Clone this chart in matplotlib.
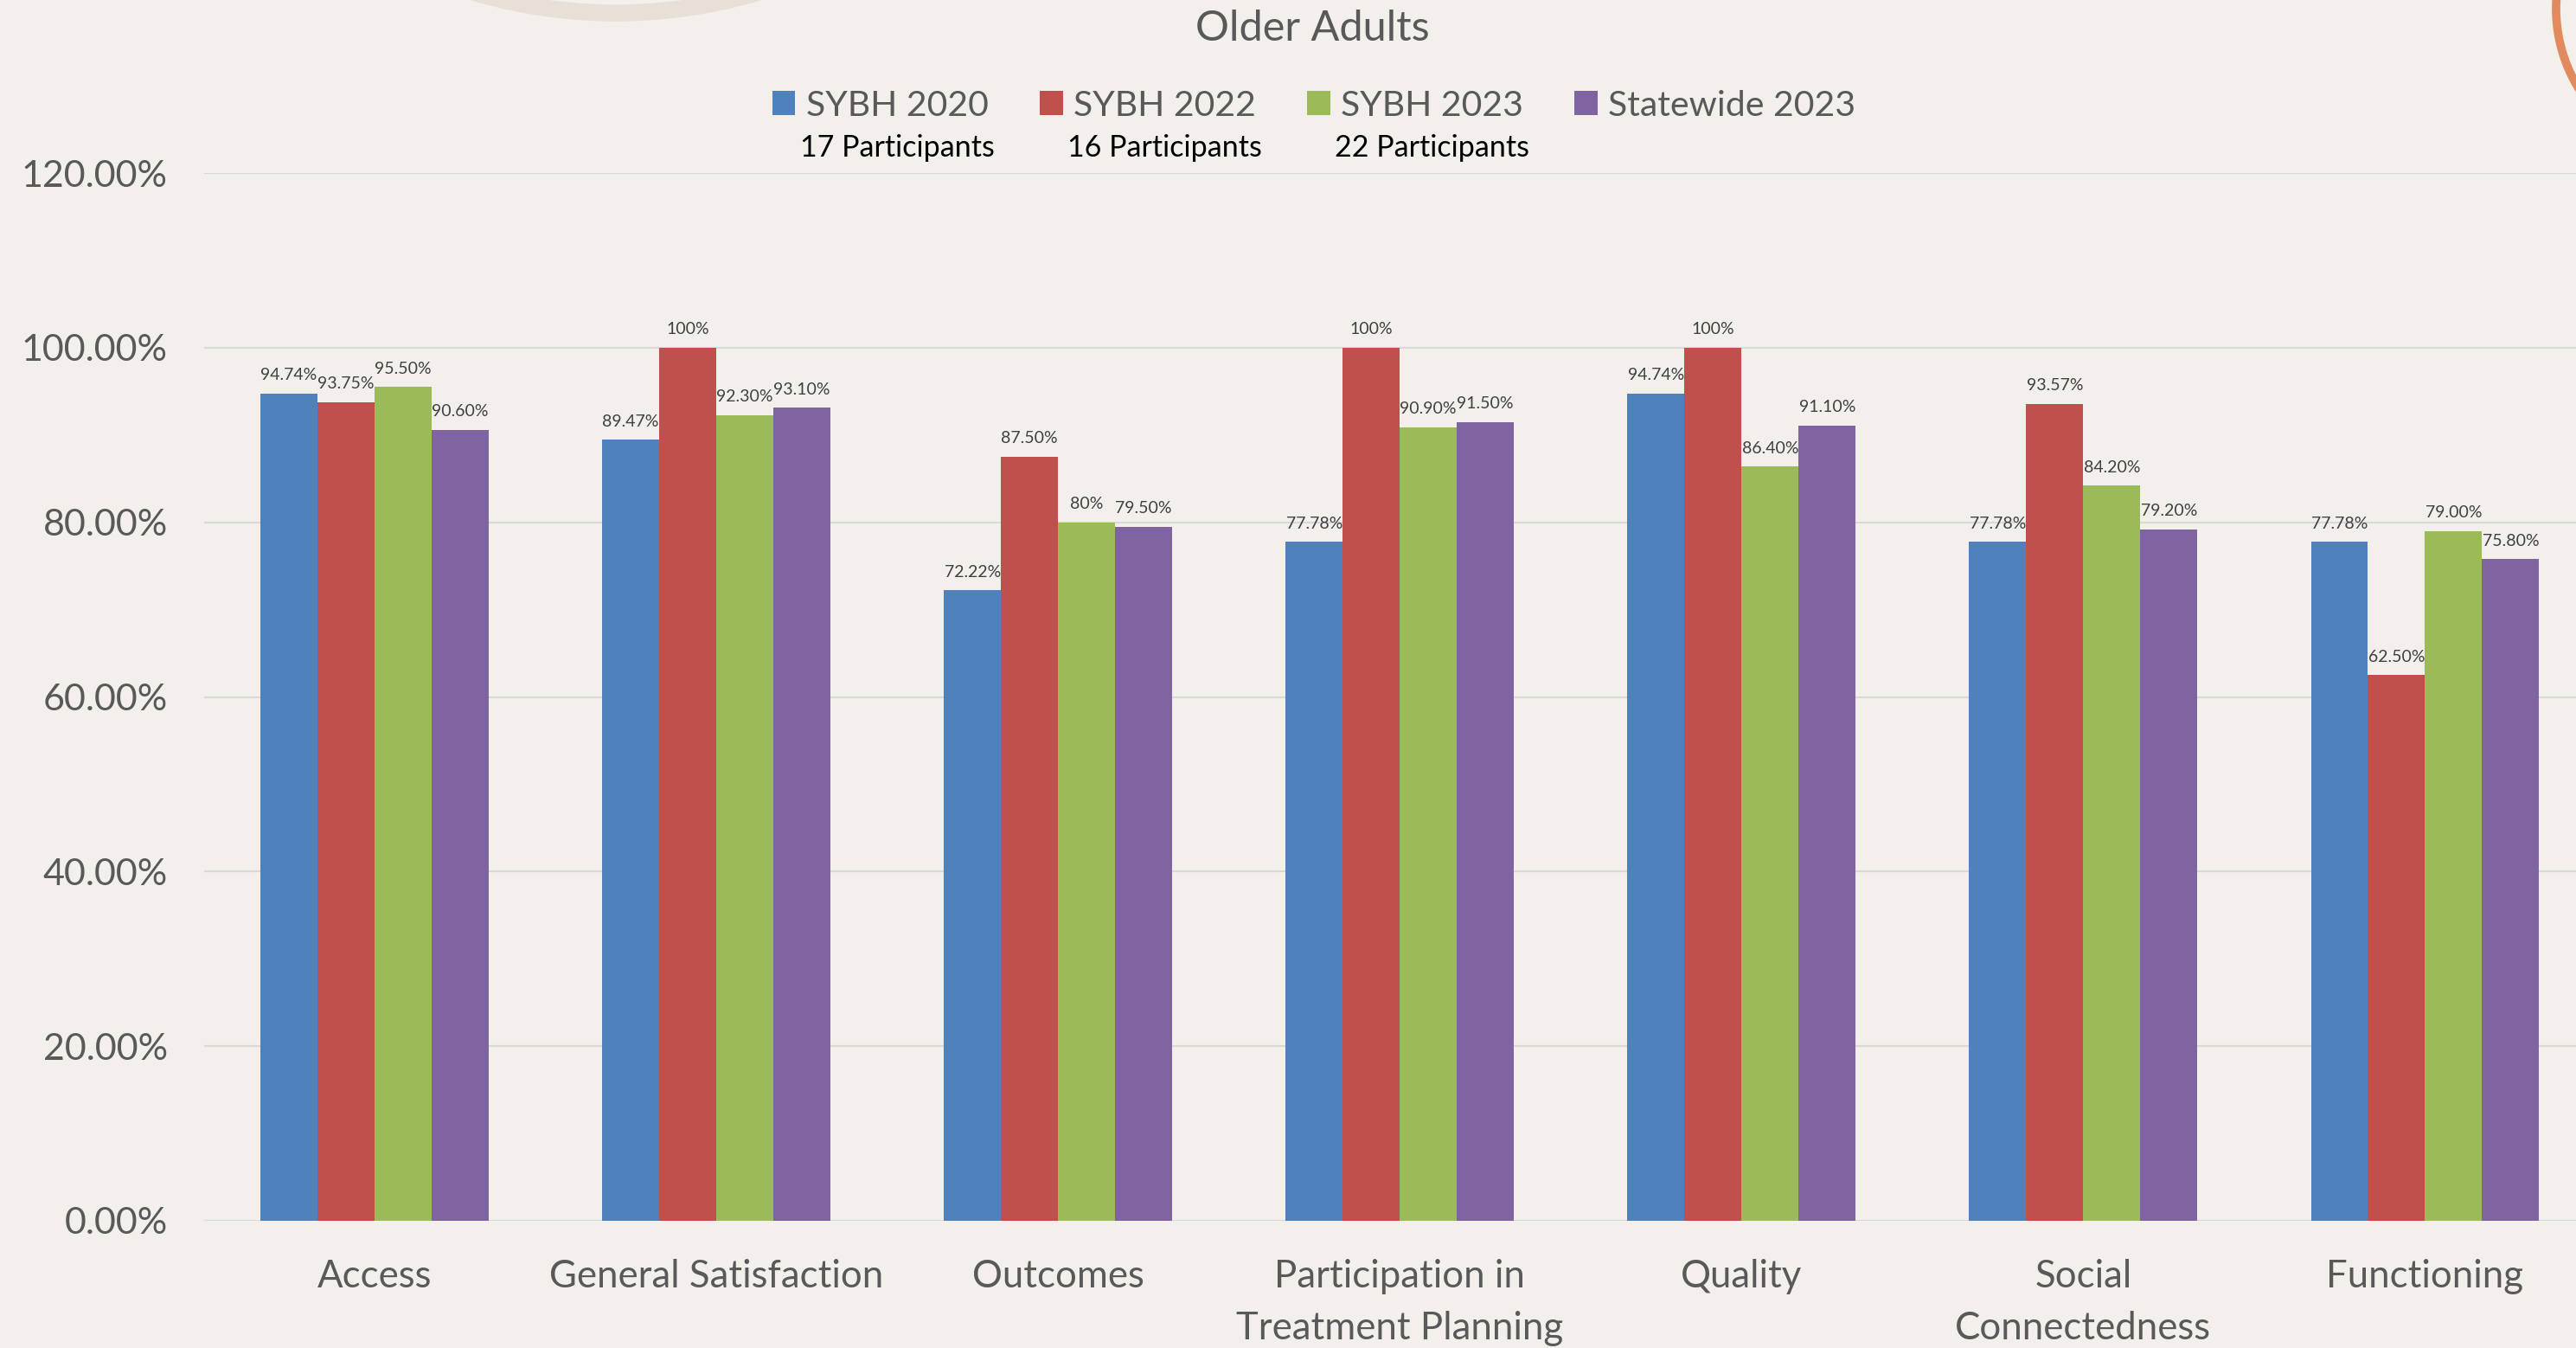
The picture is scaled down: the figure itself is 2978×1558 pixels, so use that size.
import numpy as np
import matplotlib
matplotlib.use("Agg")
import matplotlib.pyplot as plt
from matplotlib.patches import Ellipse

# ---------------- data ----------------
CATEGORIES = [
    "Access",
    "General Satisfaction",
    "Outcomes",
    "Participation in\nTreatment Planning",
    "Quality",
    "Social\nConnectedness",
    "Functioning",
]
SERIES = ["SYBH 2020", "SYBH 2022", "SYBH 2023", "Statewide 2023"]
PARTICIPANTS = ["17 Participants", "16 Participants", "22 Participants"]

# bar labels exactly as printed; bar heights are parsed from them
LBL_2020 = ["94.74%", "89.47%", "72.22%", "77.78%", "94.74%", "77.78%", "77.78%"]
LBL_2022 = ["93.75%", "100%", "87.50%", "100%", "100%", "93.57%", "62.50%"]
LBL_2023 = ["95.50%", "92.30%", "80%", "90.90%", "86.40%", "84.20%", "79.00%"]
LBL_STATE = ["90.60%", "93.10%", "79.50%", "91.50%", "91.10%", "79.20%", "75.80%"]

Y_TICKS = [0, 20, 40, 60, 80, 100, 120]

COLORS = ["#4F81BD", "#C0504D", "#9BBB59", "#8064A2"]
BG = "#F3F0EC"
GRID = "#D9D9D9"
TXT = "#595959"

plt.rcParams["font.family"] = ["Lato", "DejaVu Sans"]

W, H = 2978, 1558
fig = plt.figure(figsize=(W / 100, H / 100), dpi=100, facecolor=BG)

# decorative rings at the top edge
ring1 = Ellipse((712 / W, 1 + 565 / H), 2 * 580 / W, 2 * 580 / H,
                transform=fig.transFigure, fill=False, edgecolor="#E8E0D7", lw=14)
ring2 = Ellipse((3131 / W, 1 - 10 / H), 2 * 176 / W, 2 * 176 / H,
                transform=fig.transFigure, fill=False, edgecolor="#E08A5E", lw=7)
fig.add_artist(ring1)
fig.add_artist(ring2)

ax = fig.add_axes([235.5 / W, 1 - 1411 / H, (3001 - 235.5) / W, (1411 - 200) / H])
ax.set_facecolor("none")

labels = [LBL_2020, LBL_2022, LBL_2023, LBL_STATE]
values = [[float(s.rstrip("%")) for s in lbl] for lbl in labels]

x = np.arange(len(CATEGORIES))
bw = 0.167
handles = []
for i, (vals, lbls) in enumerate(zip(values, labels)):
    pos = x + (i - 1.5) * bw
    b = ax.bar(pos, vals, width=bw, color=COLORS[i], zorder=3)
    handles.append(b)
    for px, v, s in zip(pos, vals, lbls):
        ax.annotate(s, (px, v), xytext=(0, 9), textcoords="offset points",
                    ha="center", va="bottom", fontsize=14, color="#404040", zorder=4)

ax.set_xlim(-0.5, len(CATEGORIES) - 0.5)
ax.set_ylim(0, 120)
ax.set_yticks(Y_TICKS)
ax.set_yticklabels([f"{t:.2f}%" for t in Y_TICKS])
ax.set_xticks(x)
ax.set_xticklabels(CATEGORIES, linespacing=1.55)
ax.tick_params(axis="y", length=0, pad=30, labelsize=31, labelcolor=TXT)
ax.tick_params(axis="x", length=0, pad=32, labelsize=31.5, labelcolor=TXT)
ax.yaxis.grid(True, color=GRID, lw=1.6, zorder=0)
for sp in ax.spines.values():
    sp.set_visible(False)

fig.text(1517 / W, 1 - 33 / H, "Older Adults", ha="center", va="center",
         fontsize=35, color=TXT)

leg = fig.legend(handles, SERIES, loc="center", bbox_to_anchor=(1519 / W, 1 - 122 / H),
                 ncol=4, frameon=False, fontsize=29.5, handlelength=0.65, handleheight=0.65,
                 handletextpad=0.3, columnspacing=1.45, labelcolor=TXT)

# participant counts centred under the first three legend entries
fig.canvas.draw()
renderer = fig.canvas.get_renderer()
inv = fig.transFigure.inverted()
for t, txt in zip(leg.get_texts(), PARTICIPANTS):
    bb = t.get_window_extent(renderer)
    cx = inv.transform(((bb.x0 + bb.x1) / 2, 0))[0]
    fig.text(cx, 1 - 171 / H, txt, ha="center", va="center", fontsize=24.5, color="black")

fig.savefig("out.png", dpi=100, facecolor=BG)
